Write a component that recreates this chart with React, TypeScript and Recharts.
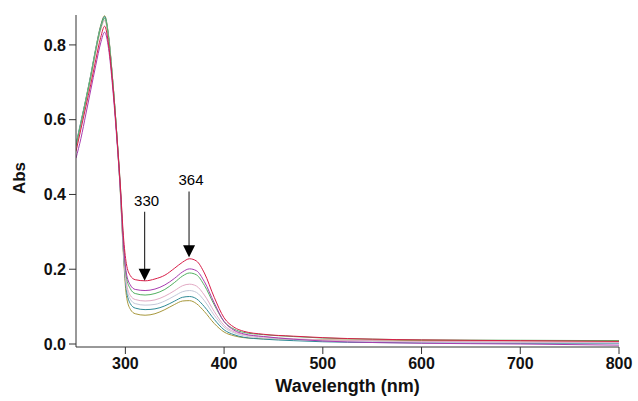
import React from "react";
import {
  LineChart,
  Line,
  XAxis,
  YAxis,
  ReferenceLine,
} from "recharts";

// wavelength (nm)
const wavelengths = [250, 255, 260, 265, 270, 275, 279, 283, 287, 291, 295, 298, 301, 305, 310, 320, 330, 340, 350, 358, 365, 372, 380, 390, 400, 410, 420, 440, 470, 500, 550, 600, 700, 800];

const redAbs = [0.515, 0.575, 0.635, 0.695, 0.76, 0.82, 0.85, 0.8, 0.7, 0.57, 0.42, 0.29, 0.215, 0.183, 0.172, 0.169, 0.174, 0.184, 0.203, 0.219, 0.228, 0.222, 0.19, 0.125, 0.07, 0.045, 0.034, 0.026, 0.021, 0.017, 0.013, 0.011, 0.009, 0.007];
const magentaAbs = [0.497, 0.55, 0.615, 0.68, 0.745, 0.805, 0.834, 0.79, 0.69, 0.56, 0.41, 0.27, 0.19, 0.158, 0.146, 0.143, 0.147, 0.158, 0.176, 0.193, 0.201, 0.196, 0.167, 0.11, 0.06, 0.037, 0.027, 0.02, 0.013, 0.008, 0.004, 0.002, 0.0, -0.003];
const greenAbs = [0.53, 0.59, 0.65, 0.715, 0.785, 0.845, 0.872, 0.82, 0.71, 0.575, 0.42, 0.275, 0.18, 0.148, 0.135, 0.131, 0.135, 0.146, 0.165, 0.182, 0.19, 0.185, 0.157, 0.105, 0.06, 0.04, 0.031, 0.025, 0.02, 0.016, 0.013, 0.011, 0.01, 0.009];
const pinkAbs = [0.525, 0.585, 0.645, 0.71, 0.78, 0.84, 0.865, 0.815, 0.705, 0.57, 0.41, 0.26, 0.165, 0.13, 0.119, 0.115, 0.118, 0.128, 0.143, 0.156, 0.16, 0.155, 0.131, 0.087, 0.05, 0.033, 0.025, 0.019, 0.014, 0.011, 0.009, 0.007, 0.006, 0.005];
const greyAbs = [0.53, 0.59, 0.65, 0.715, 0.785, 0.845, 0.87, 0.818, 0.708, 0.572, 0.408, 0.255, 0.155, 0.12, 0.108, 0.104, 0.106, 0.115, 0.129, 0.14, 0.143, 0.138, 0.116, 0.077, 0.045, 0.03, 0.022, 0.016, 0.012, 0.009, 0.007, 0.005, 0.004, 0.003];
const tealAbs = [0.535, 0.595, 0.655, 0.72, 0.79, 0.85, 0.876, 0.822, 0.71, 0.572, 0.405, 0.25, 0.145, 0.108, 0.096, 0.092, 0.094, 0.102, 0.115, 0.125, 0.127, 0.121, 0.1, 0.066, 0.038, 0.025, 0.018, 0.013, 0.009, 0.006, 0.004, 0.003, 0.002, 0.002];
const oliveAbs = [0.53, 0.592, 0.655, 0.72, 0.79, 0.852, 0.878, 0.825, 0.712, 0.572, 0.4, 0.24, 0.13, 0.093, 0.081, 0.077, 0.081, 0.092, 0.106, 0.115, 0.116, 0.108, 0.087, 0.055, 0.032, 0.022, 0.017, 0.014, 0.012, 0.011, 0.01, 0.009, 0.008, 0.008];

const xTicks = [300, 400, 500, 600, 700, 800];
const yTicks = [0, 0.2, 0.4, 0.6, 0.8];

// arrow annotations: label, x, top of shaft, tip
const arrowLabels = ["330", "364"];
const arrowX = [319.5, 364.5];
const arrowTop = [0.354, 0.408];
const arrowTip = [0.169, 0.232];

const series = [
  { key: "olive", values: oliveAbs, color: "#a8983c" },
  { key: "teal", values: tealAbs, color: "#2f8a96" },
  { key: "grey", values: greyAbs, color: "#c4c8d8" },
  { key: "pink", values: pinkAbs, color: "#e2aac4" },
  { key: "green", values: greenAbs, color: "#52b060" },
  { key: "magenta", values: magentaAbs, color: "#a83cb0" },
  { key: "red", values: redAbs, color: "#d81e48" },
];

const data = wavelengths.map((w, i) => {
  const row: any = { w };
  series.forEach((s) => {
    row[s.key] = s.values[i];
  });
  return row;
});

const font = "'Liberation Sans', Arial, sans-serif";

function Arrow(props: any) {
  const { x1, y1, x2, y2, label } = props;
  const topY = Math.min(y1, y2);
  const tipY = Math.max(y1, y2);
  const x = x1;
  return (
    <g>
      <line x1={x} y1={topY} x2={x} y2={tipY - 10} stroke="#333" strokeWidth={1.2} />
      <polygon points={`${x - 6},${tipY - 12} ${x + 6},${tipY - 12} ${x},${tipY}`} fill="#000" />
      <text x={x + 2} y={topY - 6} textAnchor="middle" fontFamily={font} fontSize={15} fill="#000">
        {label}
      </text>
    </g>
  );
}

export default function App() {
  return (
    <div style={{ position: "absolute", left: 0, top: 0, background: "#fff" }}>
      <LineChart width={638} height={401} data={data} margin={{ top: 15, right: 19, left: 0, bottom: 0 }}>
        <XAxis
          dataKey="w"
          type="number"
          domain={[250, 800]}
          ticks={xTicks}
          allowDataOverflow
          height={54}
          tickSize={7}
          tickMargin={4}
          stroke="#333"
          tick={{ fill: "#111", fontSize: 16, fontWeight: "bold", fontFamily: font }}
          label={{
            value: "Wavelength (nm)",
            position: "insideBottom",
            offset: 9,
            fill: "#111",
            fontSize: 18,
            fontWeight: "bold",
            fontFamily: font,
          }}
        />
        <YAxis
          type="number"
          domain={[-0.008, 0.88]}
          ticks={yTicks}
          allowDataOverflow
          width={76}
          tickSize={7}
          tickMargin={3}
          stroke="#333"
          tickFormatter={(v: number) => v.toFixed(1)}
          tick={{ fill: "#111", fontSize: 16, fontWeight: "bold", fontFamily: font }}
          label={{
            content: (p: any) => {
              const vb = p.viewBox;
              const cy = vb.y + vb.height / 2 - 3;
              return (
                <text
                  x={25}
                  y={cy}
                  transform={`rotate(-90, 25, ${cy})`}
                  textAnchor="middle"
                  fontFamily={font}
                  fontSize={17}
                  fontWeight="bold"
                  fill="#111"
                >
                  Abs
                </text>
              );
            },
          }}
        />
        {series.map((s) => (
          <Line
            key={s.key}
            dataKey={s.key}
            type="monotone"
            stroke={s.color}
            strokeWidth={1}
            dot={false}
            isAnimationActive={false}
          />
        ))}
        {arrowLabels.map((lab, i) => (
          <ReferenceLine
            key={lab}
            segment={[
              { x: arrowX[i], y: arrowTop[i] },
              { x: arrowX[i], y: arrowTip[i] },
            ]}
            shape={(p: any) => <Arrow {...p} label={lab} />}
          />
        ))}
      </LineChart>
    </div>
  );
}
